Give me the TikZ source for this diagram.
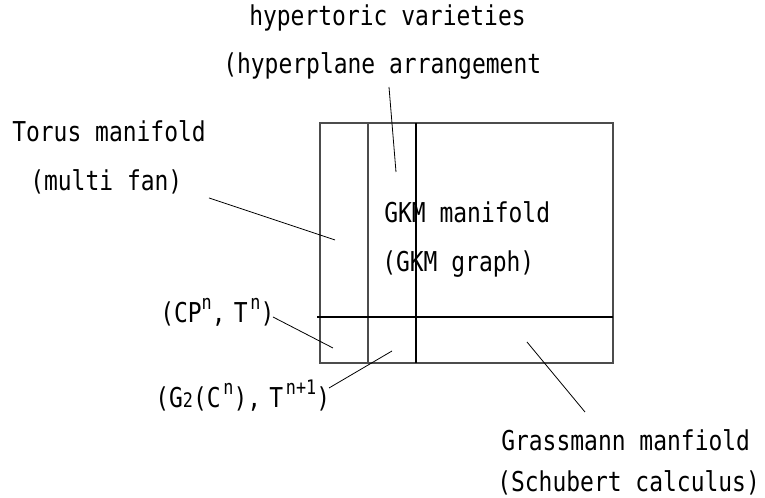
\documentclass[tikz,border=0pt]{standalone}
\usepackage{fontspec}
\setmonofont[FakeStretch=0.84]{DejaVu Sans Mono}
\newcommand{\supx}[1]{\raisebox{0.5em}{\fontsize{15}{15}\selectfont #1}}
\newcommand{\subx}[1]{{\fontsize{15}{15}\selectfont #1}}
\begin{document}
\begin{tikzpicture}[x=0.75pt,y=-0.75pt,
  lbl/.style={anchor=base west,inner sep=0pt,font=\ttfamily\fontsize{20.5}{24}\selectfont},
  frame/.style={draw=black!70,line width=0.9pt},
  inner/.style={draw=black,line width=0.8pt},
  leader/.style={draw=black,line width=0.6pt}]
\useasboundingbox (0,0) rectangle (765,498);
% frame
\coordinate (tl) at (320,123);
\coordinate (br) at (613,363);
\draw[frame] (tl) rectangle (br);
\coordinate (v1t) at (368,123); \coordinate (v1b) at (368,363);
\coordinate (v2t) at (416,123); \coordinate (v2b) at (416,363);
\coordinate (hl) at (317,317); \coordinate (hr) at (613,317);
\draw[frame] (v1t) -- (v1b);
\draw[inner] (v2t) -- (v2b);
\draw[inner] (hl) -- (hr);
% labels
\node[lbl] (hv) at (249,26) {hypertoric varieties};
\node[lbl] (ha) at (223,74) {(hyperplane arrangement};
\node[lbl] (tm) at (12,142) {Torus manifold};
\node[lbl] (mf) at (30,191) {(multi fan)};
\node[lbl] (gm) at (384,223) {GKM manifold};
\node[lbl] (gg) at (382,272) {(GKM graph)};
\node[lbl] (cp) at (160,323) {(CP\supx{n},\hspace{0.3em}T\hspace{0.1em}\supx{n})};
\node[lbl] (g2) at (155,408) {(G\subx{2}(C\hspace{0.1em}\supx{n}),\hspace{0.3em}T\hspace{0.1em}\supx{n+1})};
\node[lbl] (gr) at (501,451) {Grassmann manfiold};
\node[lbl] (sc) at (497,492) {(Schubert calculus)};
% leader lines
\coordinate (a1) at (389,87);  \coordinate (b1) at (396,172);
\coordinate (a2) at (209,198); \coordinate (b2) at (335,240);
\coordinate (a3) at (273,317); \coordinate (b3) at (333,348);
\coordinate (a4) at (329,388); \coordinate (b4) at (392,351);
\coordinate (a5) at (527,342); \coordinate (b5) at (585,412);
\draw[leader] (a1) -- (b1);
\draw[leader] (a2) -- (b2);
\draw[leader] (a3) -- (b3);
\draw[leader] (a4) -- (b4);
\draw[leader] (b5) -- (a5);
\end{tikzpicture}
\end{document}
